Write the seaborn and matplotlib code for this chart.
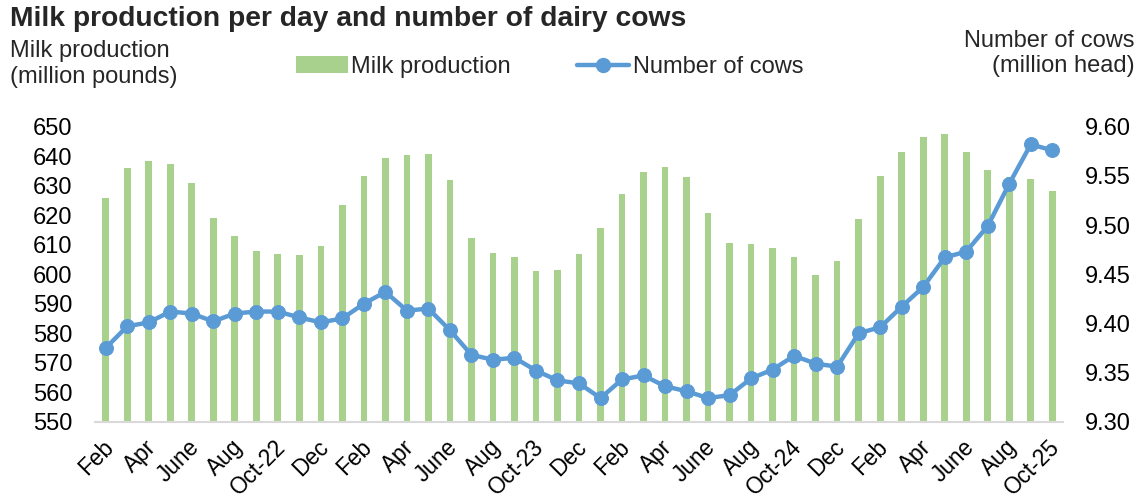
import matplotlib
matplotlib.use("Agg")
import matplotlib.pyplot as plt
import matplotlib.transforms as mtransforms
import seaborn as sns
import numpy as np
import pandas as pd
from matplotlib.lines import Line2D
from matplotlib.patches import Patch

months = ["Feb-22","Mar-22","Apr-22","May-22","Jun-22","Jul-22","Aug-22","Sep-22","Oct-22","Nov-22","Dec-22",
          "Jan-23","Feb-23","Mar-23","Apr-23","May-23","Jun-23","Jul-23","Aug-23","Sep-23","Oct-23","Nov-23","Dec-23",
          "Jan-24","Feb-24","Mar-24","Apr-24","May-24","Jun-24","Jul-24","Aug-24","Sep-24","Oct-24","Nov-24","Dec-24",
          "Jan-25","Feb-25","Mar-25","Apr-25","May-25","Jun-25","Jul-25","Aug-25","Sep-25","Oct-25"]

milk_production = [626, 636, 638.4, 637.4, 630.8, 619, 613, 608, 607, 606.5, 609.7,
                   623.3, 633.2, 639.3, 640.4, 640.6, 631.8, 612.2, 607.1, 605.9, 601.2, 601.4, 606.7,
                   615.6, 627.1, 634.7, 636.2, 633.1, 620.8, 610.5, 610.1, 608.8, 605.7, 599.8, 604.6,
                   618.7, 633.2, 641.3, 646.6, 647.5, 641.3, 635.2, 633.0, 632.2, 628.3]

number_of_cows = [9.375, 9.397, 9.401, 9.412, 9.410, 9.402, 9.410, 9.412, 9.412, 9.406, 9.401,
                  9.405, 9.420, 9.432, 9.413, 9.415, 9.393, 9.368, 9.363, 9.365, 9.352, 9.342, 9.339,
                  9.324, 9.343, 9.347, 9.336, 9.331, 9.324, 9.327, 9.344, 9.353, 9.367, 9.359, 9.356,
                  9.390, 9.396, 9.417, 9.437, 9.467, 9.473, 9.499, 9.542, 9.582, 9.576]

tick_labels = ["Feb","Apr","June","Aug","Oct-22","Dec","Feb","Apr","June","Aug","Oct-23","Dec",
               "Feb","Apr","June","Aug","Oct-24","Dec","Feb","Apr","June","Aug","Oct-25"]

left_ticks = [550, 560, 570, 580, 590, 600, 610, 620, 630, 640, 650]
right_ticks = [9.30, 9.35, 9.40, 9.45, 9.50, 9.55, 9.60]

sns.set_theme(style="white")
plt.rcParams['font.family'] = ['Liberation Sans', 'DejaVu Sans']

GREEN = "#a9d18e"
BLUE = "#5b9bd5"
FS = 17

df = pd.DataFrame({"month": months, "milk": milk_production, "cows": number_of_cows})
df["idx"] = np.arange(len(df))

fig = plt.figure(figsize=(11.4, 5.0), dpi=100)
ax = fig.add_axes([0.0833, 0.1566, 0.8492, 0.59])

sns.barplot(data=df, x="month", y="milk", order=months, color=GREEN, saturation=1,
            width=0.31, ax=ax, zorder=2)
for p in ax.patches:
    p.set_edgecolor("none")
ax.set_ylim(550, 650)
ax.set_xlim(-0.5, len(months) - 0.5)
ax.set_yticks(left_ticks)
ax.set_yticklabels([str(t) for t in left_ticks], fontsize=FS)
ax.set_xticks(range(0, len(months), 2))
ax.set_xticklabels(tick_labels, rotation=45, ha="right", rotation_mode="anchor", fontsize=16.3)
ax.set_xlabel("")
ax.set_ylabel("")
ax.tick_params(axis="both", length=0, colors="black")
ax.tick_params(axis="y", pad=16)
ax.tick_params(axis="x", pad=10)
offset = mtransforms.ScaledTranslation(-4 / 100, 0, fig.dpi_scale_trans)
for lbl in ax.get_xticklabels():
    lbl.set_transform(lbl.get_transform() + offset)
for s in ["top", "left", "right"]:
    ax.spines[s].set_visible(False)
ax.spines["bottom"].set_color("#d9d9d9")
ax.spines["bottom"].set_linewidth(1.5)

ax2 = ax.twinx()
sns.lineplot(data=df, x="idx", y="cows", color=BLUE, linewidth=3.2, marker="o",
             markersize=10, markeredgecolor=BLUE, ax=ax2, zorder=3)
ax2.set_ylim(9.30, 9.60)
ax2.set_xlim(-0.5, len(months) - 0.5)
ax2.set_yticks(right_ticks)
ax2.set_yticklabels([f"{t:.2f}" for t in right_ticks], fontsize=FS)
ax2.set_ylabel("")
ax2.set_xlabel("")
ax2.tick_params(axis="y", length=0, pad=16, colors="black")
for s in ["top", "left", "right", "bottom"]:
    ax2.spines[s].set_visible(False)

fig.text(0.009, 0.962, "Milk production per day and number of dairy cows", fontsize=20.3,
         fontweight="bold", ha="left", va="center")
fig.text(0.009, 0.872, "Milk production\n(million pounds)", fontsize=FS, ha="left", va="center",
         linespacing=1.2)
fig.text(0.995, 0.893, "Number of cows\n(million head)", fontsize=FS, ha="right", va="center",
         linespacing=1.2, multialignment="right")

handles = [Patch(facecolor=GREEN, edgecolor="none"),
           Line2D([0], [0], color=BLUE, linewidth=3.2, marker="o", markersize=10)]
fig.legend(handles, ["Milk production", "Number of cows"], loc="center",
           bbox_to_anchor=(0.482, 0.866), ncol=2, frameon=False, fontsize=FS,
           handlelength=2.2, handletextpad=0.15, columnspacing=2.8)

fig.savefig("out.png", dpi=100)
